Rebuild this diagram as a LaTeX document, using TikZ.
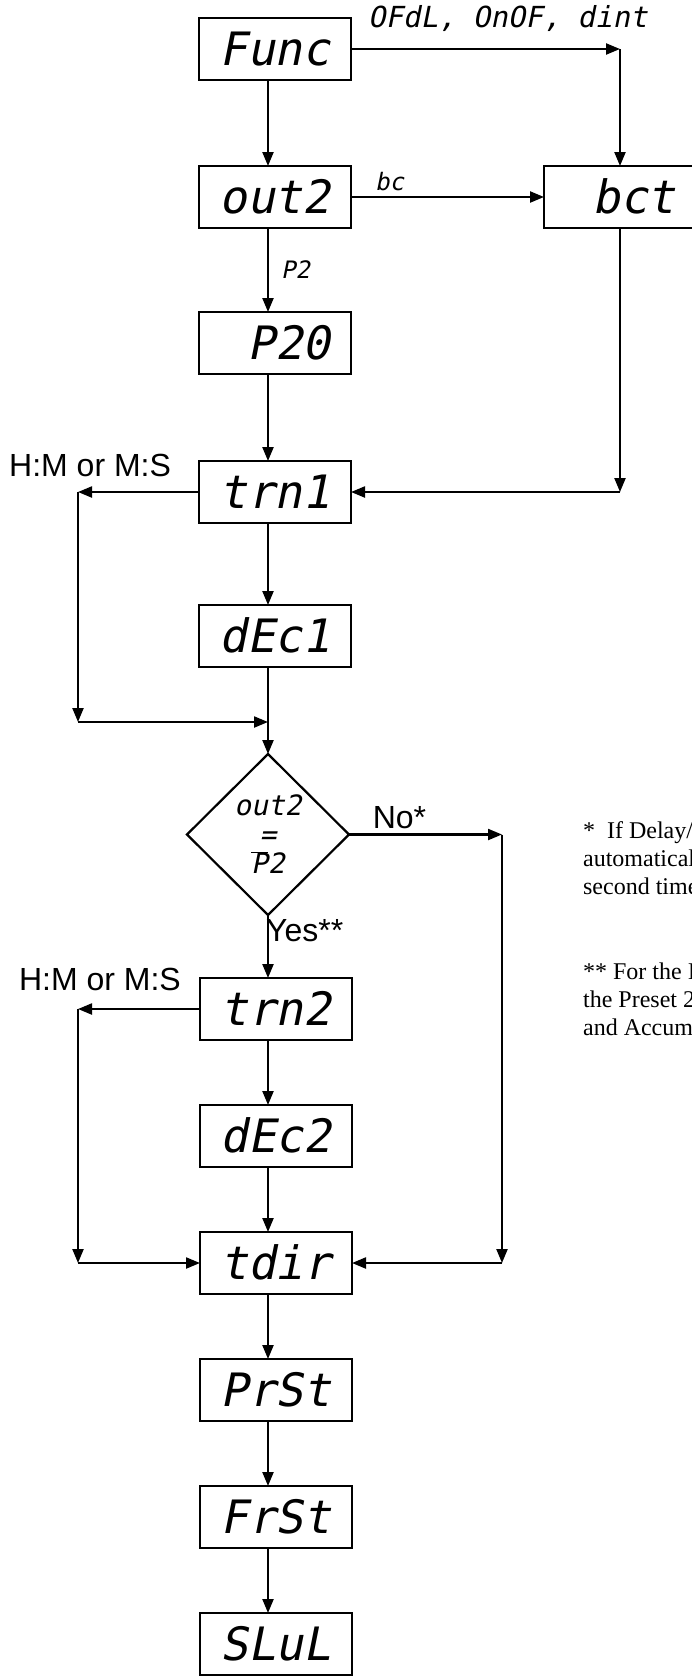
\documentclass[tikz,border=0pt]{standalone}
\usepackage{fontspec}
\setmainfont{Liberation Serif}
\newfontfamily\segfont{DejaVu Sans Mono}[FakeSlant=0.2]
\newfontfamily\labfont{Liberation Sans}
\usetikzlibrary{positioning,arrows.meta,shapes.geometric}

\begin{document}
\begin{tikzpicture}[x=1pt,y=-1pt,line width=2.2pt,
   >={Triangle[length=14pt,width=11pt]},
   disp/.style={draw,minimum width=152pt,minimum height=62pt,inner sep=0pt,outer sep=0pt,
     text height=33pt,text depth=0pt,font=\fontsize{46}{46}\segfont},
   tag/.style={inner sep=0pt,font=\fontsize{24}{24}\segfont},
   lab/.style={inner sep=0pt,font=\fontsize{32}{36}\labfont},
   note/.style={anchor=north west,inner sep=0pt,align=left,font=\fontsize{24}{28}\selectfont}]
  \useasboundingbox (0,0) rectangle (692,1676);
  \clip (0,0) rectangle (692,1676);

  \coordinate (col) at (268,0);
  \coordinate (lx) at (78,0);
  \coordinate (rx) at (502,0);

  \node[disp] (func) at (275,49) {Func};
  \node[disp,below=86pt of func] (out2) {out2};
  \node[disp,right=193pt of out2] (bct) {\hphantom{0}bct};
  \node[disp,below=84pt of out2] (p20) {\hphantom{0}P20};
  \node[disp,below=87pt of p20] (trn1) {trn1};
  \node[disp,below=82pt of trn1] (dec1) {dEc1};
  \node[draw,diamond,inner sep=0pt,outer sep=0pt,minimum width=162pt,minimum height=161pt,
    align=center,font=\fontsize{28}{29}\segfont,below=87pt of dec1,xshift=-7pt] (cmp)
    {out2\\=\\$\overline{\mbox{P}}$2};
  \node[disp,below=63pt of cmp,xshift=8pt] (trn2) {trn2};
  \node[disp,below=65pt of trn2] (dec2) {dEc2};
  \node[disp,below=65pt of dec2] (tdir) {tdir};
  \node[disp,below=65pt of tdir] (prst) {PrSt};
  \node[disp,below=65pt of prst] (frst) {FrSt};
  \node[disp,below=65pt of frst] (slul) {SLuL};

  \coordinate (fb) at (bct.north |- func.east);
  \coordinate (bt) at (bct.south |- trn1.east);
  \coordinate (l1) at (lx |- trn1.west);
  \coordinate (l2) at (78,722);
  \coordinate (j1) at (col |- l2);
  \coordinate (l3) at (lx |- trn2.west);
  \coordinate (l4) at (lx |- tdir.west);
  \coordinate (r1) at (rx |- cmp.east);
  \coordinate (r2) at (rx |- tdir.east);

  \path[->]
   (func.south -| col) edge (out2.north -| col)
   (out2.south -| col) edge node[tag,right=12pt]{P2} (p20.north -| col)
   (p20.south -| col) edge (trn1.north -| col)
   (trn1.south -| col) edge (dec1.north -| col)
   (dec1.south -| col) edge (cmp.north)
   (cmp.south) edge node[lab,pos=0,anchor=north west,xshift=-3pt,yshift=-3pt]{Yes**} (trn2.north -| col)
   (trn2.south -| col) edge (dec2.north -| col)
   (dec2.south -| col) edge (tdir.north -| col)
   (tdir.south -| col) edge (prst.north -| col)
   (prst.south -| col) edge (frst.north -| col)
   (frst.south -| col) edge (slul.north -| col);

  \path[->]
   (func.east) edge node[tag,font=\fontsize{29}{29}\segfont,pos=0.06,above=16pt,anchor=south west]{OFdL, OnOF, dint} (fb)
   (fb) edge (bct.north)
   (out2.east) edge node[tag,pos=0.2,above=5pt]{bc} (bct.west)
   (bct.south) edge (bt)
   (bt) edge (trn1.east);

  \path[->]
   (trn1.west) edge node[lab,pos=0.9,above=14pt]{H:M or M:S} (l1)
   (l1) edge (l2)
   (l2) edge (j1)
   (trn2.west) edge node[lab,pos=0.82,above=17pt]{H:M or M:S} (l3)
   (l3) edge (l4)
   (l4) edge (tdir.west)
   (cmp.east) edge node[lab,pos=0.33,above=5pt]{No*} (r1)
   (r1) edge (r2)
   (r2) edge (tdir.east);

  \node[note] (n1) at (582,820) {*~~If Delay/I\\automatical\\second time};
  \node[note] (n2) at (582,962) {** For the In\\the Preset 2\\and Accumu};
\end{tikzpicture}
\end{document}
